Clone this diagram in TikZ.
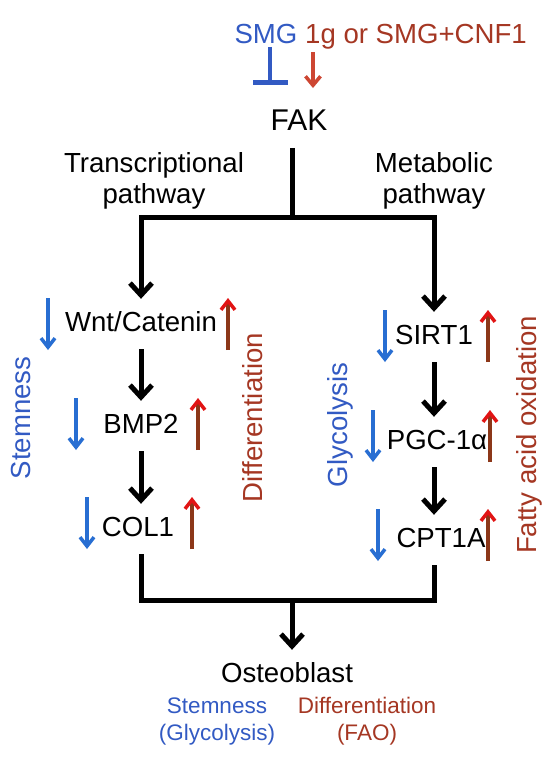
\documentclass[tikz,border=0pt]{standalone}
\usepackage{fontspec}
\setmainfont{Liberation Sans}
\usepackage{xcolor}
\usepackage{tikz}
\usetikzlibrary{positioning,arrows.meta}
\definecolor{stemblue}{RGB}{50,90,195}
\definecolor{downblue}{RGB}{40,110,210}
\definecolor{diffred}{RGB}{165,55,35}
\definecolor{upbrown}{RGB}{140,55,25}
\definecolor{upred}{RGB}{225,20,20}
\definecolor{actred}{RGB}{205,70,50}

\tikzset{
  gene/.style={font=\fontsize{27.6}{30}\selectfont, text height=20pt, text depth=6pt, inner xsep=2pt, inner ysep=12pt},
  path label/.style={font=\fontsize{27.6}{31}\selectfont, align=center, inner sep=0pt},
  side label/.style={font=\fontsize{27.6}{30}\selectfont, rotate=90, inner sep=0pt},
  outcome/.style={font=\fontsize{22.5}{27}\selectfont, align=center, inner sep=0pt},
  flow/.style={line width=5pt, -{Straight Barb[length=12pt,width=22pt]}},
  trunk/.style={line width=5pt},
  dn/.style={draw=downblue, line width=3.5pt, -{Straight Barb[length=9pt,width=14pt]}},
  up/.style={draw=upbrown, line width=3.5pt, -{Straight Barb[length=9pt,width=14pt,color=upred]}},
  inhibit/.style={draw=stemblue, line width=4pt, -{Bar[width=35pt,line width=5pt]}},
  activate/.style={draw=actred, line width=3.5pt, -{Straight Barb[length=9pt,width=15pt]}},
}

\newcommand{\regmarks}[4]{%
  \draw[dn] ([shift={(#2,#4-26)}]#1.center) -- ([shift={(#2,#4+26)}]#1.center);
  \draw[up] ([shift={(#3,#4+26)}]#1.center) -- ([shift={(#3,#4-26)}]#1.center);
}

\begin{document}
\begin{tikzpicture}[x=1pt, y=-1pt]
\useasboundingbox (0,0) rectangle (550,761);

\node[font=\fontsize{27.6}{30}\selectfont, text=stemblue, anchor=base] (smg) at (266,43) {SMG};
\node[font=\fontsize{27.6}{30}\selectfont, text=diffred, anchor=base] (cnf) at (416,43) {1g or SMG+CNF1};
\node[font=\fontsize{30}{32}\selectfont] (fak) at (299,120) {FAK};

\coordinate (smgstop) at (270,85);
\coordinate (cnfstop) at (313,88);
\draw[inhibit] (smg.south -| smgstop) -- (smgstop);
\draw[activate] (cnf.south -| cnfstop) -- (cnfstop);

\node[path label] (trans) at (154,181) {Transcriptional\\pathway};
\node[path label] (meta) at (434,181) {Metabolic\\pathway};

\node[gene] (wnt) at (141,324) {Wnt/Catenin};
\node[gene] (bmp) at (141,426) {BMP2};
\node[gene] (col) at (138,529) {COL1};
\node[gene] (sirt) at (434,337) {SIRT1};
\node[gene] (pgc) at (437,442) {PGC-1α};
\node[gene] (cpt) at (441,540) {CPT1A};
\node[gene] (osteo) at (287,675) {Osteoblast};

\coordinate (split) at (292,217);
\coordinate (merge) at (292,600);

\draw[trunk] ([yshift=-14pt]fak.south -| split) -- (split);
\draw[flow] (split) -| (wnt);
\draw[flow] (split) -| (sirt);

\draw[flow] (wnt) -- (bmp);
\draw[flow] (bmp.south -| wnt) -- (col.north -| wnt);
\draw[flow] (sirt) -- (sirt |- pgc.north);
\draw[flow] (pgc.south -| sirt) -- (sirt |- cpt.north);

\draw[trunk] (col.south -| wnt) |- (merge) -| (cpt.south -| sirt);
\draw[flow] (merge) -- (merge |- osteo.north);

\regmarks{wnt}{-93}{87}{0}
\regmarks{bmp}{-65}{57}{-2}
\regmarks{col}{-51}{54}{-6}
\regmarks{sirt}{-49}{54}{-1}
\regmarks{pgc}{-64}{53}{-6}
\regmarks{cpt}{-63}{47}{-5}

\node[side label, text=stemblue] (stemside) at (21,418) {Stemness};
\node[side label, text=diffred] (diffside) at (253,418) {Differentiation};
\node[side label, text=stemblue] (glycoside) at (340,425) {Glycolysis};
\node[side label, text=diffred] (faoside) at (529,435) {Fatty acid oxidation};

\node[outcome, text=stemblue] (stemout) at (217,721) {Stemness\\(Glycolysis)};
\node[outcome, text=diffred] (diffout) at (367,721) {Differentiation\\(FAO)};
\end{tikzpicture}
\end{document}
